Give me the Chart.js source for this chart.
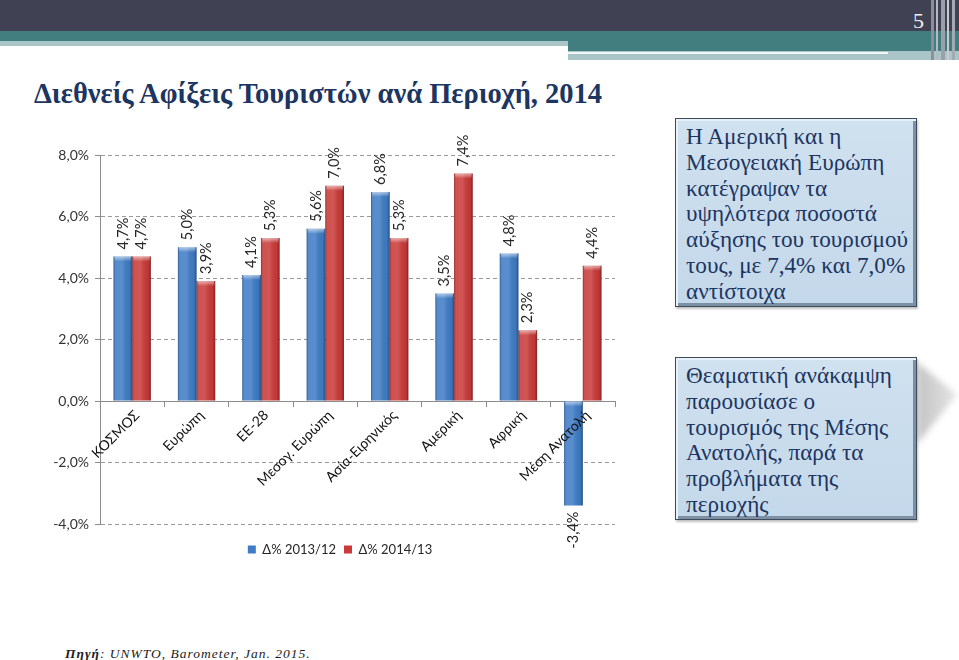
<!DOCTYPE html>
<html>
<head>
<meta charset="utf-8">
<script src="https://cdn.jsdelivr.net/npm/chart.js@4"></script>
<style>
  html, body { margin:0; padding:0; background:#fff; }
  body { width:959px; height:660px; position:relative; overflow:hidden; }
  .abs { position:absolute; }
  #title { left:34px; top:78px; font-family:"Liberation Serif", serif; font-weight:bold; font-size:28.5px; color:#1c3561; white-space:nowrap; }
  .box { position:absolute; left:675px; width:242px; box-sizing:border-box;
         background:linear-gradient(#d0e1ef, #c3d8ea); border:1px solid #3d4b5a;
         box-shadow: inset 2px 2px 0 #e9f1f8, inset -3px -3px 0 #7d8fa2, 1px 2px 2px rgba(0,0,0,0.25);
         font-family:"Liberation Serif", serif; font-size:23.2px; line-height:25.8px; color:#1c3561;
         padding:5px 0 0 10px; white-space:nowrap; }
  #src { left:65px; top:646px; font-family:"Liberation Serif", serif; font-style:italic; font-size:13.5px; letter-spacing:1px; color:#222; white-space:nowrap; }
</style>
</head>
<body>
<!-- header bands -->
<div class="abs" style="left:0;top:0;width:959px;height:31px;background:#404152;"></div>
<div class="abs" style="left:0;top:31px;width:959px;height:10px;background:#427d80;"></div>
<div class="abs" style="left:0;top:41px;width:568px;height:5px;background:#a9c5c8;"></div>
<div class="abs" style="left:568px;top:41px;width:391px;height:10px;background:#427d80;"></div>
<div class="abs" style="left:568px;top:51px;width:391px;height:9px;background:#a9c5c8;"></div>
<div class="abs" style="left:568px;top:52px;width:320px;height:2px;background:#f2f8f8;"></div>
<div class="abs" style="left:931px;top:0;width:3px;height:60px;background:#8a8f99;"></div>
<div class="abs" style="left:936px;top:0;width:2px;height:60px;background:#b5bac0;"></div>
<div class="abs" style="left:941px;top:0;width:4px;height:60px;background:#9aa0a8;"></div>
<div class="abs" style="left:947px;top:0;width:2px;height:60px;background:#c8ccd0;"></div>
<div class="abs" style="left:952px;top:0;width:3px;height:60px;background:#a4aab2;"></div>
<div class="abs" style="left:913px;top:8px;font-family:'Liberation Serif',serif;font-size:22px;color:#f0f0f0;">5</div>

<div id="title" class="abs">Διεθνείς Αφίξεις Τουριστών ανά Περιοχή, 2014</div>

<div class="abs" style="left:40px;top:130px;width:600px;height:440px;">
  <canvas id="c" width="600" height="440"></canvas>
</div>

<div class="box" style="top:118px;height:189px;">Η Αμερική και η<br>Μεσογειακή Ευρώπη<br>κατέγραψαν τα<br>υψηλότερα ποσοστά<br>αύξησης του τουρισμού<br>τους, με 7,4% και 7,0%<br>αντίστοιχα</div>

<div class="abs" style="left:917px;top:362px;width:42px;height:82px;filter:blur(3px);">
  <div style="width:100%;height:100%;clip-path:polygon(0 0, 95% 40%, 0 100%);background:linear-gradient(90deg,#c4c4c4,#e6e6e6);"></div>
</div>
<div class="box" style="top:357px;height:163px;">Θεαματική ανάκαμψη<br>παρουσίασε ο<br>τουρισμός της Μέσης<br>Ανατολής, παρά τα<br>προβλήματα της<br>περιοχής</div>

<div id="src" class="abs"><b>Πηγή</b>: UNWTO, Barometer, Jan. 2015.</div>

<script>
const categories = ["ΚΟΣΜΟΣ", "Ευρώπη", "ΕΕ-28", "Μεσογ. Ευρώπη", "Ασία-Ειρηνικός", "Αμερική", "Αφρική", "Μέση Ανατολή"];
const seriesNames = ["Δ% 2013/12", "Δ% 2014/13"];
const change2013 = [4.7, 5.0, 4.1, 5.6, 6.8, 3.5, 4.8, -3.4];
const change2014 = [4.7, 3.9, 5.3, 7.0, 5.3, 7.4, 2.3, 4.4];
const yTicks = [-4, -2, 0, 2, 4, 6, 8];

const fmt = v => v.toFixed(1).replace('.', ',') + '%';
const FONT = 'Lato, "Liberation Sans", sans-serif';

const barShade = {
  id: 'barShade',
  afterDatasetsDraw(chart) {
    const ctx = chart.ctx;
    chart.data.datasets.forEach((ds, di) => {
      const meta = chart.getDatasetMeta(di);
      meta.data.forEach((el, i) => {
        const p = el.getProps(['x', 'y', 'base', 'width'], true);
        const left = p.x - p.width / 2;
        const top = Math.min(p.y, p.base);
        const h = Math.abs(p.base - p.y);
        const g = ctx.createLinearGradient(left, 0, left + p.width, 0);
        g.addColorStop(0, 'rgba(0,0,0,0.28)');
        g.addColorStop(0.12, 'rgba(255,255,255,0.12)');
        g.addColorStop(0.45, 'rgba(255,255,255,0.14)');
        g.addColorStop(0.85, 'rgba(0,0,0,0.04)');
        g.addColorStop(1, 'rgba(0,0,0,0.35)');
        ctx.save();
        ctx.fillStyle = g;
        ctx.fillRect(left, top, p.width, h);
        const cg = ctx.createLinearGradient(0, top, 0, top + 5);
        cg.addColorStop(0, 'rgba(255,255,255,0.55)');
        cg.addColorStop(1, 'rgba(255,255,255,0)');
        ctx.fillStyle = cg;
        ctx.fillRect(left + 1, top, p.width - 2, 5);
        ctx.restore();
      });
    });
  }
};

const valueLabels = {
  id: 'valueLabels',
  afterDatasetsDraw(chart) {
    const ctx = chart.ctx;
    ctx.save();
    ctx.font = '14.5px ' + FONT;
    ctx.fillStyle = '#262626';
    ctx.textBaseline = 'middle';
    chart.data.datasets.forEach((ds, di) => {
      const meta = chart.getDatasetMeta(di);
      meta.data.forEach((el, i) => {
        const v = ds.data[i];
        const p = el.getProps(['x', 'y'], true);
        ctx.save();
        ctx.translate(p.x, v >= 0 ? p.y - 7 : p.y + 6);
        ctx.rotate(-Math.PI / 2);
        ctx.textAlign = v >= 0 ? 'left' : 'right';
        ctx.fillText(fmt(v), 0, 0);
        ctx.restore();
      });
    });
    ctx.restore();
  }
};

new Chart(document.getElementById('c'), {
  type: 'bar',
  data: {
    labels: categories,
    datasets: [
      { label: seriesNames[0], data: change2013, backgroundColor: '#3f7cc6', borderWidth: 0 },
      { label: seriesNames[1], data: change2014, backgroundColor: '#c93a38', borderWidth: 0 }
    ]
  },
  options: {
    responsive: false,
    animation: false,
    layout: { padding: { top: 25, right: 0, left: 0, bottom: 4 } },
    datasets: { bar: { categoryPercentage: 0.58, barPercentage: 1.0 } },
    plugins: {
      legend: {
        position: 'bottom',
        title: { display: true, text: ' ', padding: 0, font: { size: 11, lineHeight: 1 } },
        labels: { boxWidth: 8, boxHeight: 8, padding: 8, color: '#262626', font: { family: FONT, size: 13 } }
      },
      tooltip: { enabled: false }
    },
    scales: {
      x: {
        type: 'category',
        position: { y: 0 },
        offset: true,
        afterFit: s => { s.height = 0; },
        grid: { display: true, drawOnChartArea: false, drawTicks: true, tickLength: 5, offset: true, tickColor: '#8c8c8c', tickBorderDash: [] },
        border: { display: true, color: '#8c8c8c', width: 1 },
        ticks: { z: 1, autoSkip: false, minRotation: 45, maxRotation: 45, padding: 1, labelOffset: 5, color: '#111', font: { family: FONT, size: 14 } }
      },
      y: {
        min: -4, max: 8,
        afterFit: s => { s.width = 60; },
        afterBuildTicks: s => { s.ticks = yTicks.map(v => ({ value: v })); },
        grid: { color: '#9a9a9a', drawTicks: true, tickLength: 5, tickColor: '#8c8c8c', tickBorderDash: [] },
        border: { display: true, color: '#8c8c8c', dash: [4, 3] },
        ticks: { padding: 6, color: '#333', font: { family: FONT, size: 14 }, callback: v => fmt(v) }
      },
      spacer: {
        type: 'linear',
        position: 'right',
        display: true,
        afterFit: s => { s.width = 25; },
        grid: { display: false, drawTicks: false },
        border: { display: false },
        ticks: { display: false }
      }
    }
  },
  plugins: [barShade, valueLabels]
});
</script>
</body>
</html>
